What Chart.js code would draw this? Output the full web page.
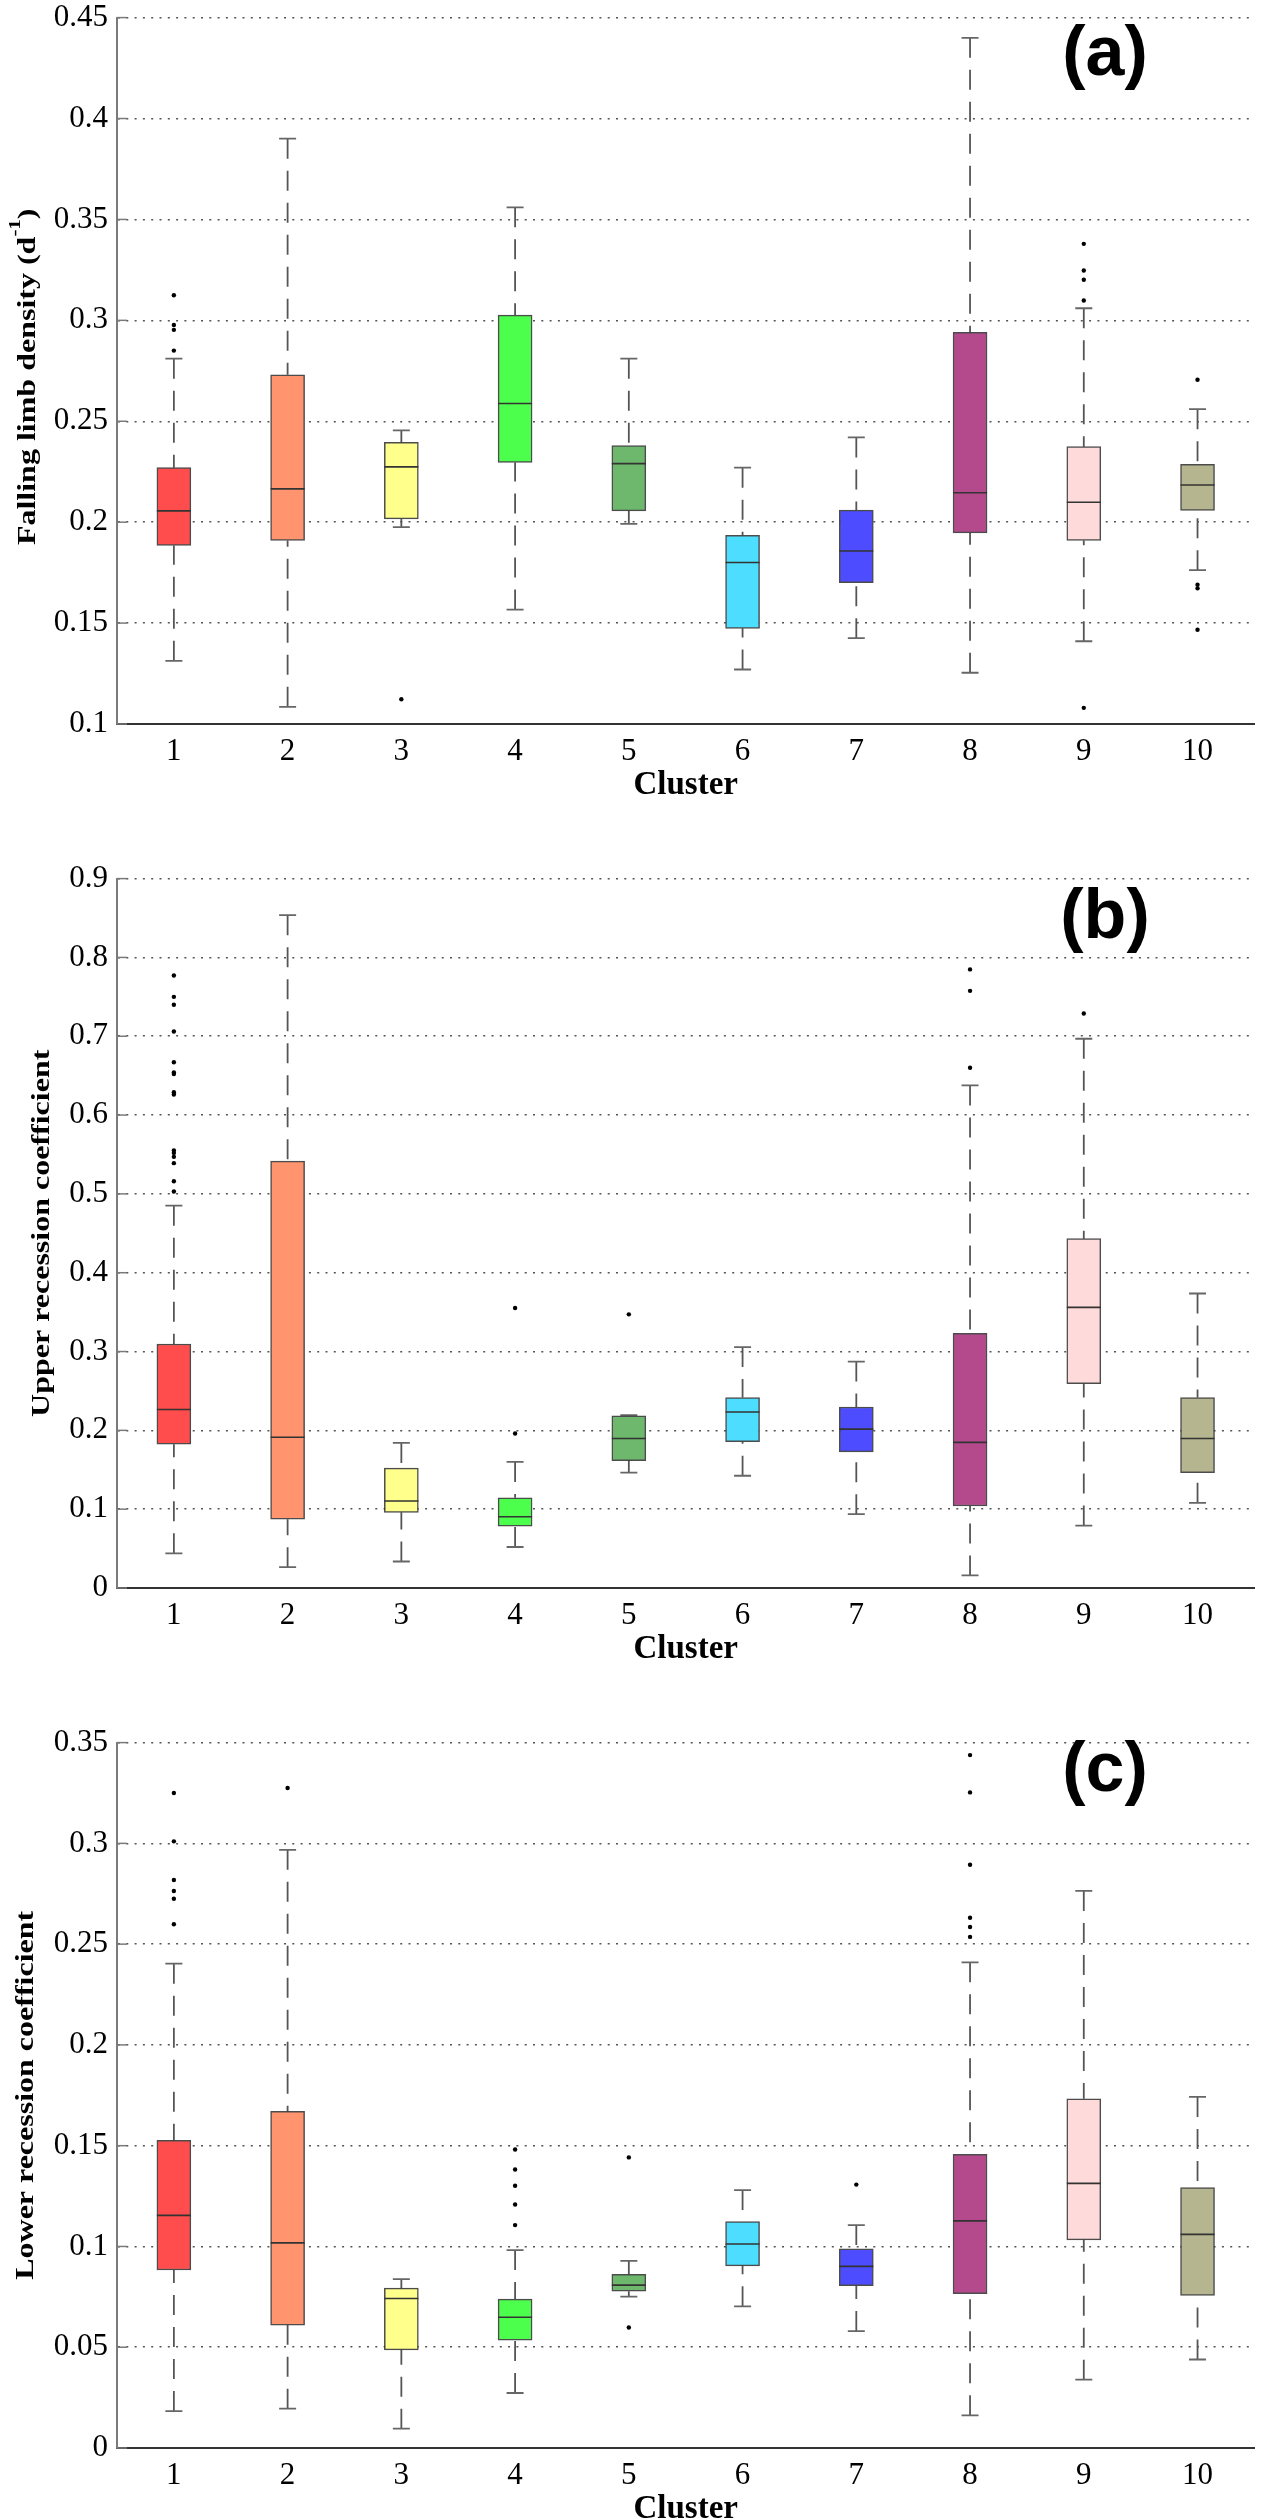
<!DOCTYPE html>
<html>
<head>
<meta charset="utf-8">
<title>Recession indices by cluster</title>
<script src="https://cdn.jsdelivr.net/npm/chart.js@4.4.1/dist/chart.umd.min.js"></script>
<style>
    html, body { margin: 0; padding: 0; background: #fff; }
    #page { position: relative; width: 1273px; height: 2520px; overflow: hidden; }
    #page canvas { position: absolute; left: 0; }
</style>
</head>
<body>
<div id="page">
    <canvas id="chartA" width="1273" height="814" style="top:-10px"></canvas>
    <canvas id="chartB" width="1273" height="817" style="top:851px"></canvas>
    <canvas id="chartC" width="1273" height="813" style="top:1715px"></canvas>
</div>

<script>
// Cluster names (x axis)
const clusters = ['1', '2', '3', '4', '5', '6', '7', '8', '9', '10'];

// (a) Falling limb density (d-1)
const fallLo  = [0.1313, 0.1085, 0.1975, 0.1567, 0.1992, 0.1270, 0.1425, 0.1254, 0.1410, 0.1762];
const fallQ1  = [0.1885, 0.1909, 0.2016, 0.2296, 0.2056, 0.1474, 0.1700, 0.1947, 0.1909, 0.2058];
const fallMed = [0.2056, 0.2165, 0.2274, 0.2588, 0.2290, 0.1800, 0.1857, 0.2146, 0.2099, 0.2184];
const fallQ3  = [0.2270, 0.2730, 0.2395, 0.3026, 0.2380, 0.1935, 0.2060, 0.2940, 0.2374, 0.2286];
const fallHi  = [0.2810, 0.3900, 0.2455, 0.3560, 0.2810, 0.2270, 0.2420, 0.4400, 0.3060, 0.2560];
const fallOut = [
    [0.3124, 0.2977, 0.2953, 0.2850], [], [0.1123], [], [], [], [], [],
    [0.3379, 0.3247, 0.3201, 0.3098, 0.1080], [0.2706, 0.1690, 0.1672, 0.1467]
];

// (b) Upper recession coefficient
const upLo  = [0.0440, 0.0264, 0.0336, 0.0520, 0.1464, 0.1424, 0.0936, 0.0160, 0.0792, 0.1080];
const upQ1  = [0.1824, 0.0872, 0.0960, 0.0784, 0.1616, 0.1856, 0.1728, 0.1040, 0.2592, 0.1464];
const upMed = [0.2264, 0.1912, 0.1104, 0.0904, 0.1896, 0.2232, 0.2016, 0.1848, 0.3560, 0.1896];
const upQ3  = [0.3096, 0.5416, 0.1520, 0.1144, 0.2184, 0.2416, 0.2296, 0.3232, 0.4432, 0.2416];
const upHi  = [0.4850, 0.8536, 0.1840, 0.1600, 0.2192, 0.3056, 0.2872, 0.6376, 0.6968, 0.3736];
const upOut = [
    [0.777, 0.750, 0.740, 0.706, 0.667, 0.654, 0.652, 0.629, 0.626, 0.555, 0.552, 0.547, 0.539, 0.516, 0.503],
    [], [], [0.3552, 0.1960], [0.3472], [], [], [0.7848, 0.7576, 0.6600], [0.7288], []
];

// (c) Lower recession coefficient
const lowLo  = [0.0183, 0.0195, 0.0096, 0.0273, 0.0751, 0.0703, 0.0580, 0.0162, 0.0339, 0.0439];
const lowQ1  = [0.0883, 0.0610, 0.0487, 0.0535, 0.0778, 0.0904, 0.0805, 0.0766, 0.1033, 0.0757];
const lowMed = [0.1154, 0.1018, 0.0742, 0.0649, 0.0808, 0.1012, 0.0901, 0.1127, 0.1313, 0.1060];
const lowQ3  = [0.1526, 0.1670, 0.0793, 0.0739, 0.0862, 0.1124, 0.0988, 0.1457, 0.1733, 0.1292];
const lowHi  = [0.2403, 0.2968, 0.0838, 0.0982, 0.0928, 0.1280, 0.1106, 0.2410, 0.2764, 0.1742];
const lowOut = [
    [0.3250, 0.3010, 0.2818, 0.2764, 0.2725, 0.2599], [0.3275], [],
    [0.1481, 0.1382, 0.1301, 0.1208, 0.1106], [0.1442, 0.0598], [], [0.1307],
    [0.3438, 0.3253, 0.2894, 0.2631, 0.2585, 0.2536], [], []
];

// Box fill colours, one per cluster
const boxColors = ['#FF4D4D', '#FF946E', '#FFFF8C', '#4DFF4D', '#6DB86D',
                   '#4DDDFF', '#4D4DFF', '#B44A8C', '#FFDADA', '#B5B58F'];

const serif = '"Liberation Serif", "Times New Roman", serif';

// Inward y tick marks, the condensed y title and the panel letter
const panelDecor = {
    id: 'panelDecor',
    afterDraw(chart, args, opts) {
        const { ctx, chartArea, scales: { y } } = chart;
        ctx.save();
        ctx.strokeStyle = '#7a7a7a';
        ctx.lineWidth = 1.5;
        y.ticks.forEach((t, i) => {
            const py = y.getPixelForTick(i);
            ctx.beginPath();
            ctx.moveTo(chartArea.left, py);
            ctx.lineTo(chartArea.left + 10, py);
            ctx.stroke();
        });
        ctx.restore();

        // y title: parts are [text, isSuperscript]
        const mainFont = 'bold 32px ' + serif;
        const supFont = 'bold 21px ' + serif;
        ctx.save();
        ctx.fillStyle = '#000';
        ctx.textBaseline = 'middle';
        ctx.textAlign = 'left';
        let total = 0;
        opts.title.forEach(([txt, sup]) => {
            ctx.font = sup ? supFont : mainFont;
            total += ctx.measureText(txt).width;
        });
        ctx.translate(opts.titleX, (chartArea.top + chartArea.bottom) / 2 + opts.titleDy);
        ctx.rotate(-Math.PI / 2);
        ctx.scale(1, 0.8);
        let tx = -total / 2;
        opts.title.forEach(([txt, sup]) => {
            ctx.font = sup ? supFont : mainFont;
            ctx.fillText(txt, tx, sup ? -15 : 0);
            tx += ctx.measureText(txt).width;
        });
        ctx.restore();

        ctx.save();
        ctx.font = 'bold 70px "Liberation Sans", Arial, sans-serif';
        ctx.fillStyle = '#000';
        ctx.textAlign = 'center';
        ctx.textBaseline = 'middle';
        ctx.fillText(opts.text, chartArea.left + opts.dx, chartArea.top + opts.dy);
        ctx.restore();
    }
};

// Build one box plot panel from its arrays
function makePanel(canvasId, p) {
    const boxes = [], upper = [], lower = [], caps = [], medians = [], dots = [];
    clusters.forEach((c, i) => {
        const x = i + 1;
        boxes.push({ x, y: [p.q1[i], p.q3[i]] });
        upper.push({ x, y: p.hi[i] }, { x, y: p.q3[i] }, { x, y: null });
        lower.push({ x, y: p.lo[i] }, { x, y: p.q1[i] }, { x, y: null });
        caps.push({ x, y: p.hi[i] }, { x, y: p.lo[i] });
        medians.push({ x, y: p.med[i] });
        p.out[i].forEach(v => dots.push({ x, y: v }));
    });

    return new Chart(document.getElementById(canvasId), {
        type: 'bar',
        data: {
            datasets: [
                { type: 'scatter', data: dots, pointRadius: 2.2, pointBackgroundColor: '#000',
                  pointBorderWidth: 0, order: 0 },
                { type: 'scatter', data: medians, pointStyle: 'line', pointRadius: 17,
                  pointBorderColor: '#333', pointBorderWidth: 1.6, order: 1 },
                { type: 'bar', data: boxes, backgroundColor: boxColors,
                  borderColor: 'rgba(45,45,45,0.85)', borderWidth: 1.5, borderSkipped: false,
                  barThickness: 34, order: 2 },
                { type: 'scatter', data: caps, pointStyle: 'line', pointRadius: 8.5,
                  pointBorderColor: '#666', pointBorderWidth: 1.8, order: 3 },
                { type: 'line', data: upper, borderColor: '#555', borderWidth: 1.8,
                  borderDash: [20, 12], pointRadius: 0, spanGaps: false, order: 4 },
                { type: 'line', data: lower, borderColor: '#555', borderWidth: 1.8,
                  borderDash: [20, 12], pointRadius: 0, spanGaps: false, order: 4 }
            ]
        },
        options: {
            responsive: false,
            animation: false,
            events: [],
            layout: { padding: { top: 20, right: 1, bottom: 0, left: 0 } },
            plugins: {
                legend: { display: false },
                tooltip: { enabled: false },
                panelDecor: {
                    text: p.letter, dx: 988, dy: p.letterDy,
                    title: p.yTitle, titleX: p.titleX, titleDy: p.titleDy
                }
            },
            scales: {
                x: {
                    type: 'linear',
                    min: 0.5,
                    max: 10.5,
                    offset: false,
                    afterBuildTicks: s => { s.ticks = clusters.map((c, i) => ({ value: i + 1 })); },
                    afterFit: s => { s.height = 80; },
                    ticks: {
                        font: { family: serif, size: 31, lineHeight: 1 },
                        color: '#000',
                        padding: 12,
                        autoSkip: false,
                        maxRotation: 0,
                        callback: (v, i) => clusters[i]
                    },
                    grid: { display: false, drawTicks: false },
                    border: { color: '#333', width: 2 },
                    title: {
                        display: true,
                        text: 'Cluster',
                        font: { family: serif, size: 33, weight: 'bold', lineHeight: 1 },
                        color: '#000',
                        padding: { top: 0, bottom: 2 }
                    }
                },
                y: {
                    min: p.yMin,
                    max: p.yMax,
                    afterFit: s => { s.width = 117; },
                    ticks: {
                        stepSize: p.yStep,
                        font: { family: serif, size: 31 },
                        color: '#000',
                        padding: 9,
                        callback: v => String(+v.toFixed(2))
                    },
                    grid: { color: '#555', lineWidth: 1.5, drawTicks: false },
                    border: { color: '#7a7a7a', width: 2, dash: [2, 6.3] },
                    title: { display: false }
                }
            }
        },
        plugins: [panelDecor]
    });
}

makePanel('chartA', {
    lo: fallLo, q1: fallQ1, med: fallMed, q3: fallQ3, hi: fallHi, out: fallOut,
    yMin: 0.1, yMax: 0.45, yStep: 0.05,
    yTitle: [['Falling limb density (d', false], ['-1', true], [')', false]],
    titleX: 28, titleDy: 6,
    letter: '(a)', letterDy: 38
});

makePanel('chartB', {
    lo: upLo, q1: upQ1, med: upMed, q3: upQ3, hi: upHi, out: upOut,
    yMin: 0, yMax: 0.9, yStep: 0.1,
    yTitle: [['Upper recession coefficient', false]],
    titleX: 42, titleDy: 0,
    letter: '(b)', letterDy: 40
});

makePanel('chartC', {
    lo: lowLo, q1: lowQ1, med: lowMed, q3: lowQ3, hi: lowHi, out: lowOut,
    yMin: 0, yMax: 0.35, yStep: 0.05,
    yTitle: [['Lower recession coefficient', false]],
    titleX: 26, titleDy: 0,
    letter: '(c)', letterDy: 29
});
</script>
</body>
</html>
